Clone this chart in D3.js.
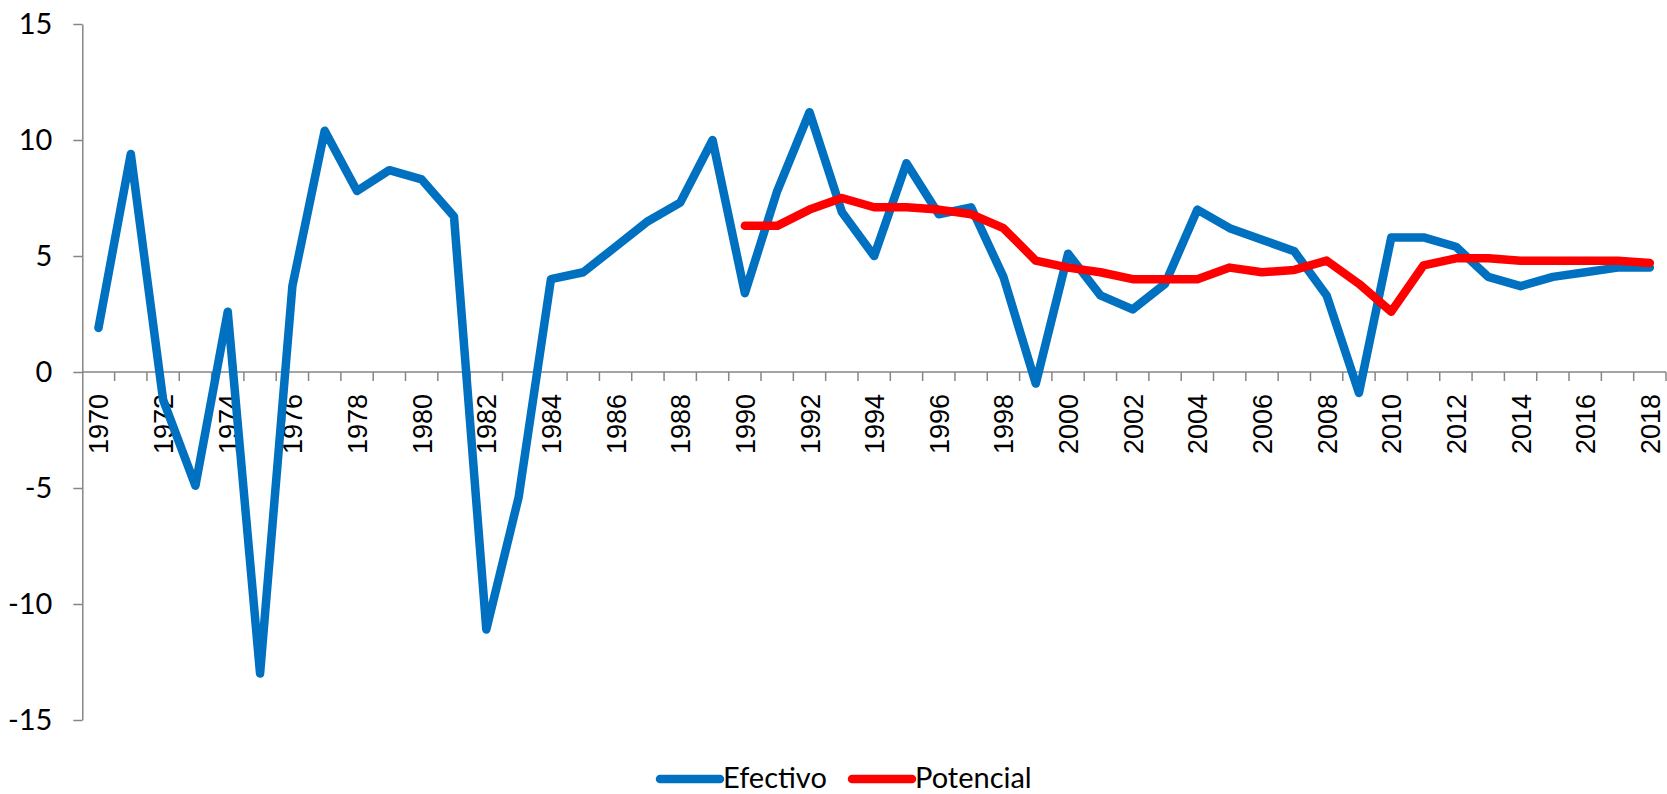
<!DOCTYPE html>
<html>
<head>
<meta charset="utf-8">
<script src="https://cdn.jsdelivr.net/npm/d3@7"></script>
<style>
  body { margin: 0; background: #fff; }
  svg { display: block; }
</style>
</head>
<body>
<div id="chart"></div>
<script>
  'use strict';

  var years = d3.range(1970, 2019);

  var efectivo = [
    1.9, 9.4, -1.2, -4.9, 2.6, -13.0, 3.7, 10.4, 7.8, 8.7,
    8.3, 6.7, -11.1, -5.4, 4.0, 4.3, 5.4, 6.5, 7.3, 10.0,
    3.4, 7.8, 11.2, 6.9, 5.0, 9.0, 6.8, 7.1, 4.1, -0.5,
    5.1, 3.3, 2.7, 3.8, 7.0, 6.2, 5.7, 5.2, 3.3, -0.9,
    5.8, 5.8, 5.4, 4.1, 3.7, 4.1, 4.3, 4.5, 4.5
  ];

  // starts in 1990
  var potencial = [
    6.3, 6.3, 7.0, 7.5, 7.1, 7.1, 7.0, 6.8, 6.2, 4.8,
    4.5, 4.3, 4.0, 4.0, 4.0, 4.5, 4.3, 4.4, 4.8, 3.8,
    2.6, 4.6, 4.9, 4.9, 4.8, 4.8, 4.8, 4.8, 4.7
  ];
  var potencialStart = 1990;

  var yTicks = [-15, -10, -5, 0, 5, 10, 15];
  var seriesNames = ['Efectivo', 'Potencial'];
  var seriesColors = ['#0070c0', '#ff0000'];

  var w = 1667,
    h = 794;

  var svg = d3.select('#chart')
    .append('svg')
    .attr('width', w)
    .attr('height', h);

  var x = d3.scaleBand()
    .domain(years)
    .range([82.3, 1666])
    .padding(0);

  var y = d3.scaleLinear()
    .domain([-15, 15])
    .range([720, 24]);

  var axisColor = '#868686';

  // y axis (plain hyphen for negatives, like the original)
  var yAxis = svg.append('g')
    .attr('transform', 'translate(' + x.range()[0] + ',0)')
    .call(d3.axisLeft(y)
      .tickValues(yTicks)
      .tickFormat(function(d) { return String(d); })
      .tickSize(9).tickSizeOuter(0).tickPadding(21));
  yAxis.select('.domain').attr('stroke', axisColor).attr('stroke-width', 1.5);
  yAxis.selectAll('.tick line').attr('stroke', axisColor).attr('stroke-width', 1.5);
  yAxis.selectAll('.tick text')
    .attr('fill', '#000')
    .style('font-family', 'Lato, "Open Sans", sans-serif')
    .style('font-size', '29px');

  // x axis on zero line, ticks between categories
  var x0 = y(0);
  var xAxis = svg.append('g')
    .attr('transform', 'translate(0,' + x0 + ')');

  xAxis.append('line')
    .attr('x1', x.range()[0])
    .attr('x2', x.range()[1])
    .attr('stroke', axisColor)
    .attr('stroke-width', 1.5);

  var edges = years.map(function(d) { return x(d) + x.bandwidth(); });
  xAxis.selectAll('.xtick')
    .data(edges)
    .enter().append('line')
    .attr('class', 'xtick')
    .attr('x1', function(d) { return d; })
    .attr('x2', function(d) { return d; })
    .attr('y1', 0)
    .attr('y2', 9)
    .attr('stroke', axisColor)
    .attr('stroke-width', 1.5);

  xAxis.selectAll('.xlabel')
    .data(years.filter(function(d) { return d % 2 === 0; }))
    .enter().append('text')
    .attr('class', 'xlabel')
    .attr('transform', function(d) {
      return 'translate(' + (x(d) + x.bandwidth() / 2 + 10) + ',22) rotate(-90)';
    })
    .attr('text-anchor', 'end')
    .style('font-family', '"Liberation Sans", Arial, sans-serif')
    .style('font-size', '27px')
    .text(function(d) { return d; });

  // lines
  var line = d3.line()
    .defined(function(d) { return d[1] !== null; })
    .x(function(d) { return x(d[0]) + x.bandwidth() / 2; })
    .y(function(d) { return y(d[1]); });

  var effData = years.map(function(yr, i) { return [yr, efectivo[i]]; });
  var potData = potencial.map(function(v, i) { return [potencialStart + i, v]; });

  [effData, potData].forEach(function(data, i) {
    svg.append('path')
      .datum(data)
      .attr('d', line)
      .attr('fill', 'none')
      .attr('stroke', seriesColors[i])
      .attr('stroke-width', 8.5)
      .attr('stroke-linejoin', 'round')
      .attr('stroke-linecap', 'round');
  });

  // legend
  var legendX = [660, 852];
  var legend = svg.selectAll('.legend')
    .data(seriesNames)
    .enter().append('g')
    .attr('class', 'legend')
    .attr('transform', function(d, i) { return 'translate(' + legendX[i] + ',779)'; });

  legend.append('line')
    .attr('x1', 0)
    .attr('x2', 60)
    .attr('stroke', function(d, i) { return seriesColors[i]; })
    .attr('stroke-width', 8.5)
    .attr('stroke-linecap', 'round');

  legend.append('text')
    .attr('x', 63)
    .attr('y', 9)
    .style('font-family', 'Lato, "Open Sans", sans-serif')
    .style('font-size', '29px')
    .text(function(d) { return d; });
</script>
</body>
</html>
